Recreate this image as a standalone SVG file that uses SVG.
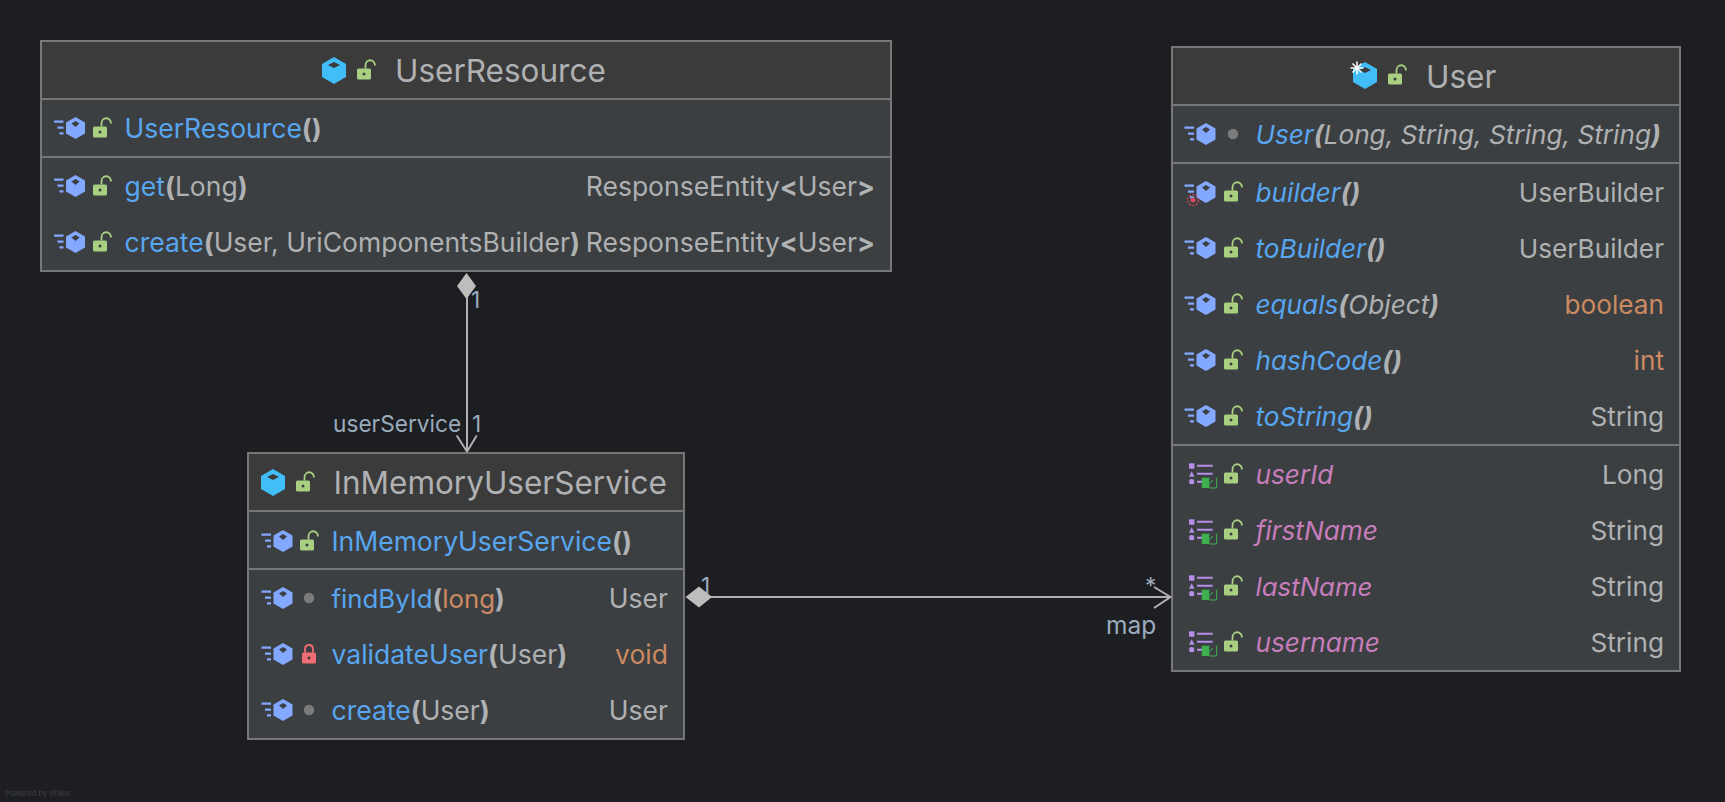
<svg xmlns="http://www.w3.org/2000/svg" width="1725" height="802" viewBox="0 0 1725 802">
<style>
text{font-family:Inter,"Noto Sans","Liberation Sans",sans-serif}
.hd{fill:#3c3b3b}.bd{fill:#3c3f41}
.bx{fill:none;stroke:#777;stroke-width:2}
.sp{stroke:#777;stroke-width:2}
.t{font-size:31.500px;fill:#afb1b3}
.m{font-size:26.500px;fill:#afb1b3}
#User .m{font-size:26.200px}
.b{fill:#58a6f0}.p{fill:#c77dbb}.o{fill:#cc8a62}
.e{text-anchor:end}
.i{font-style:italic}
.pn{font-weight:700}
.l{font-size:22.700px;fill:#9aabbd}
.c{fill:none;stroke:#afb1b3;stroke-width:2}
</style>
<defs>
<g id="cube"><path d="M0-13 12-6V7L0 14-12 7V-6Z" fill="#41bdf8"/><path d="M0-8 6-5 0-2-6-5Z" fill="#3c3b3b"/></g>
<g id="lock"><rect x="-9.500" y="-1.500" width="14" height="11" rx="1.500" fill="#a8d080"/><circle cx="-2.500" cy="4" r="1.500" fill="#3c3f41"/><path d="M-1-1.500V-4.500C-1-11.500 8.500-11.500 8.500-4.500" fill="none" stroke="#a8d080" stroke-width="1.800"/></g>
<g id="rlock"><rect x="-7" y="-1.500" width="14" height="11" rx="1.500" fill="#ef6e73"/><circle cy="4" r="1.500" fill="#3c3f41"/><path d="M-4-1.500V-4.500C-4-10.500 4-10.500 4-4.500V-1.500" fill="none" stroke="#ef6e73" stroke-width="1.800"/></g>
<g id="meth"><path d="M0-11 9.500-5.500V5.500L0 11-9.500 5.500V-5.500Z" fill="#82a8ff"/><path d="M0-7 4-4.500 0-1-4-4.500Z" fill="#3c3f41"/><path d="M-21.500-6.300h9.500M-18-.3h6M-16 5.300h4" stroke="#82a8ff" stroke-width="2.200" fill="none"/></g>
<g id="fld"><rect x="-13" y="-11.700" width="5.400" height="5.400" fill="#b78ee8"/><path d="M-10.300-3.700-7.600 1.700h-5.400Z" fill="#b78ee8"/><circle cx="-10.300" cy="6.700" r="2.600" fill="#b78ee8"/><path d="M-5-9.300h15.700M-5-1.300h15.700M-5 6.700h5" stroke="#b78ee8" stroke-width="2" fill="none"/><path d="M-.3 2.700h7.600v10.300h-7.600Z" fill="#3fb04e"/><path d="M7.300 13H14.700V2.700M7.300 9 11 5" fill="none" stroke="#3fb04e" stroke-width="1"/></g>
<circle id="dot" r="5.200" fill="#7b7b7b"/>
</defs>
<rect width="1725" height="802" fill="#1d1e22"/>
<g id="connectors">
<path class="c" d="M467 295V451M456.700 435.500 467 451.700 476.700 435.500"/>
<path d="M466.500 273 476 286 466.500 299 457 286Z" fill="#bdbdbd"/>
<path class="c" d="M708 597H1170M1154 587 1170.500 597 1154 608"/>
<path d="M685.500 597 699 586.500 712 597 699 607.500Z" fill="#bdbdbd"/>
<text class="l" x="471" y="308">1</text>
<text class="l" x="333" y="432">userService</text>
<text class="l" x="472" y="432">1</text>
<text class="l" x="701" y="594">1</text>
<text class="l" x="1145" y="594">*</text>
<text class="l" x="1106" y="634" style="font-size:24.500px">map</text>
</g>
<g id="UserResource">
<rect class="bd" x="41" y="41" width="850" height="230"/>
<rect class="hd" x="41" y="41" width="850" height="58"/>
<rect class="bx" x="41" y="41" width="850" height="230"/>
<path class="sp" d="M41 99H891M41 157H891"/>
<use href="#cube" x="334" y="70"/><use href="#lock" x="366.500" y="70"/>
<text class="t" x="395" y="81.500">UserResource</text>
<use href="#meth" x="75.500" y="128"/><use href="#lock" x="102.500" y="128"/>
<text class="m" x="124.500" y="138"><tspan class="b">UserResource</tspan><tspan class="pn">()</tspan></text>
<use href="#meth" x="75.500" y="186"/><use href="#lock" x="102.500" y="186"/>
<text class="m" x="124.500" y="196"><tspan class="b">get</tspan><tspan class="pn">(</tspan>Long<tspan class="pn">)</tspan></text>
<text class="m e" x="875" y="196">ResponseEntity<tspan class="pn">&lt;</tspan>User<tspan class="pn">&gt;</tspan></text>
<use href="#meth" x="75.500" y="242"/><use href="#lock" x="102.500" y="242"/>
<text class="m" x="124.500" y="252"><tspan class="b">create</tspan><tspan class="pn">(</tspan>User, UriComponentsBuilder<tspan class="pn">)</tspan></text>
<text class="m e" x="875" y="252">ResponseEntity<tspan class="pn">&lt;</tspan>User<tspan class="pn">&gt;</tspan></text>
</g>
<g id="InMemoryUserService">
<rect class="bd" x="248" y="453" width="436" height="286"/>
<rect class="hd" x="248" y="453" width="436" height="58"/>
<rect class="bx" x="248" y="453" width="436" height="286"/>
<path class="sp" d="M248 511H684M248 569H684"/>
<use href="#cube" x="273" y="482"/><use href="#lock" x="305.500" y="482"/>
<text class="t" x="333.500" y="493.500">InMemoryUserService</text>
<use href="#meth" x="283" y="541"/><use href="#lock" x="309.500" y="541"/>
<text class="m" x="331.500" y="551"><tspan class="b">InMemoryUserService</tspan><tspan class="pn">()</tspan></text>
<use href="#meth" x="283" y="598"/><use href="#dot" x="309" y="598"/>
<text class="m" x="331.500" y="608" style="font-size:25.800px"><tspan class="b">findById</tspan><tspan class="pn">(</tspan><tspan class="o">long</tspan><tspan class="pn">)</tspan></text>
<text class="m e" x="668" y="608">User</text>
<use href="#meth" x="283" y="654"/><use href="#rlock" x="309" y="654"/>
<text class="m" x="331.500" y="664"><tspan class="b">validateUser</tspan><tspan class="pn">(</tspan>User<tspan class="pn">)</tspan></text>
<text class="m e o" x="668" y="664">void</text>
<use href="#meth" x="283" y="710"/><use href="#dot" x="309" y="710"/>
<text class="m" x="331.500" y="720"><tspan class="b">create</tspan><tspan class="pn">(</tspan>User<tspan class="pn">)</tspan></text>
<text class="m e" x="668" y="720">User</text>
</g>
<g id="User">
<rect class="bd" x="1172" y="47" width="508" height="624"/>
<rect class="hd" x="1172" y="47" width="508" height="58"/>
<rect class="bx" x="1172" y="47" width="508" height="624"/>
<path class="sp" d="M1172 105H1680M1172 163H1680M1172 445H1680"/>
<use href="#cube" x="1365" y="75"/><use href="#lock" x="1397.500" y="75"/>
<path d="M1357 61.500v13M1350.500 68h13M1352.500 63.500l9 9M1352.500 72.500l9-9" stroke="#fff" stroke-width="1.500"/>
<text class="t" x="1426" y="87.500">User</text>
<g class="i">
<use href="#meth" x="1206" y="134"/><use href="#dot" x="1233" y="134"/>
<text class="m" x="1255.500" y="144"><tspan class="b">User</tspan><tspan class="pn">(</tspan>Long, String, String, String<tspan class="pn">)</tspan></text>
<use href="#meth" x="1206" y="192"/><use href="#lock" x="1233.500" y="192"/>
<circle cx="1193" cy="200" r="5.500" fill="none" stroke="#e0465e" stroke-width="1.200" stroke-dasharray="2 1.500"/><circle cx="1193" cy="200" r="2.500" fill="#e0465e"/>
<text class="m" x="1255.500" y="202"><tspan class="b">builder</tspan><tspan class="pn">()</tspan></text>
<use href="#meth" x="1206" y="248"/><use href="#lock" x="1233.500" y="248"/>
<text class="m" x="1255.500" y="258"><tspan class="b">toBuilder</tspan><tspan class="pn">()</tspan></text>
<use href="#meth" x="1206" y="304"/><use href="#lock" x="1233.500" y="304"/>
<text class="m" x="1255.500" y="314"><tspan class="b">equals</tspan><tspan class="pn">(</tspan>Object<tspan class="pn">)</tspan></text>
<use href="#meth" x="1206" y="360"/><use href="#lock" x="1233.500" y="360"/>
<text class="m" x="1255.500" y="370"><tspan class="b">hashCode</tspan><tspan class="pn">()</tspan></text>
<use href="#meth" x="1206" y="416"/><use href="#lock" x="1233.500" y="416"/>
<text class="m" x="1255.500" y="426"><tspan class="b">toString</tspan><tspan class="pn">()</tspan></text>
<use href="#fld" x="1202" y="475"/><use href="#lock" x="1233.500" y="474"/>
<text class="m p" x="1255.500" y="484">userId</text>
<use href="#fld" x="1202" y="531"/><use href="#lock" x="1233.500" y="530"/>
<text class="m p" x="1255.500" y="540">firstName</text>
<use href="#fld" x="1202" y="587"/><use href="#lock" x="1233.500" y="586"/>
<text class="m p" x="1255.500" y="596" style="font-size:25.800px">lastName</text>
<use href="#fld" x="1202" y="643"/><use href="#lock" x="1233.500" y="642"/>
<text class="m p" x="1255.500" y="652">username</text>
</g>
<text class="m e" x="1664" y="202">UserBuilder</text>
<text class="m e" x="1664" y="258">UserBuilder</text>
<text class="m e o" x="1664" y="314">boolean</text>
<text class="m e o" x="1664" y="370">int</text>
<text class="m e" x="1664" y="426">String</text>
<text class="m e" x="1664" y="484">Long</text>
<text class="m e" x="1664" y="540">String</text>
<text class="m e" x="1664" y="596">String</text>
<text class="m e" x="1664" y="652">String</text>
</g>
<text x="5" y="796" font-size="7.500" fill="#3f4043">Powered by yFiles</text>
</svg>
